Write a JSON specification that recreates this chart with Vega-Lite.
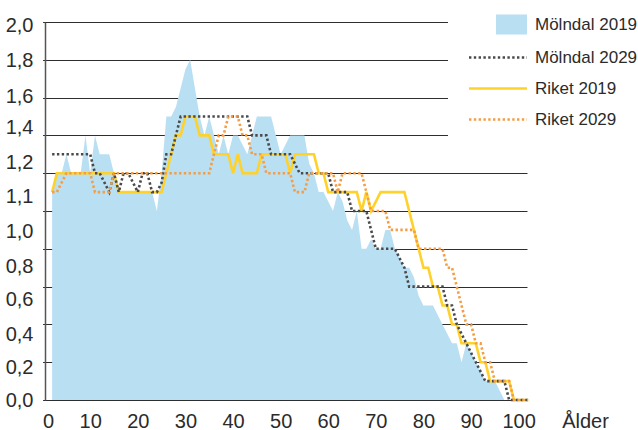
{
  "$schema": "https://vega.github.io/schema/vega-lite/v6.json",
  "width": 482,
  "height": 378,
  "autosize": {"type": "none"},
  "padding": {"left": 45, "top": 22, "right": 111, "bottom": 30},
  "background": "white",
  "config": {
    "view": {"stroke": null},
    "font": "Liberation Sans",
    "axis": {"labelFont": "Liberation Sans Narrow, Liberation Sans", "titleFont": "Liberation Sans Narrow, Liberation Sans", "labelColor": "#2b2b2b", "titleColor": "#2b2b2b"}
  },
  "data": {
    "values": [
      {"Ålder": 2, "Mölndal 2019": 1.1, "Mölndal 2029": 1.3, "Riket 2019": 1.1, "Riket 2029": 1.1},
      {"Ålder": 3, "Mölndal 2019": 1.2, "Mölndal 2029": 1.3, "Riket 2019": 1.2, "Riket 2029": 1.1},
      {"Ålder": 4, "Mölndal 2019": 1.2, "Mölndal 2029": 1.3, "Riket 2019": 1.2, "Riket 2029": 1.15},
      {"Ålder": 5, "Mölndal 2019": 1.3, "Mölndal 2029": 1.3, "Riket 2019": 1.2, "Riket 2029": 1.2},
      {"Ålder": 6, "Mölndal 2019": 1.2, "Mölndal 2029": 1.3, "Riket 2019": 1.2, "Riket 2029": 1.2},
      {"Ålder": 7, "Mölndal 2019": 1.2, "Mölndal 2029": 1.3, "Riket 2019": 1.2, "Riket 2029": 1.2},
      {"Ålder": 8, "Mölndal 2019": 1.2, "Mölndal 2029": 1.3, "Riket 2019": 1.2, "Riket 2029": 1.2},
      {"Ålder": 9, "Mölndal 2019": 1.4, "Mölndal 2029": 1.3, "Riket 2019": 1.2, "Riket 2029": 1.2},
      {"Ålder": 10, "Mölndal 2019": 1.2, "Mölndal 2029": 1.3, "Riket 2019": 1.2, "Riket 2029": 1.2},
      {"Ålder": 11, "Mölndal 2019": 1.4, "Mölndal 2029": 1.2, "Riket 2019": 1.2, "Riket 2029": 1.1},
      {"Ålder": 12, "Mölndal 2019": 1.3, "Mölndal 2029": 1.2, "Riket 2019": 1.2, "Riket 2029": 1.1},
      {"Ålder": 13, "Mölndal 2019": 1.3, "Mölndal 2029": 1.15, "Riket 2019": 1.2, "Riket 2029": 1.1},
      {"Ålder": 14, "Mölndal 2019": 1.3, "Mölndal 2029": 1.1, "Riket 2019": 1.2, "Riket 2029": 1.1},
      {"Ålder": 15, "Mölndal 2019": 1.2, "Mölndal 2029": 1.2, "Riket 2019": 1.2, "Riket 2029": 1.2},
      {"Ålder": 16, "Mölndal 2019": 1.1, "Mölndal 2029": 1.1, "Riket 2019": 1.1, "Riket 2029": 1.2},
      {"Ålder": 17, "Mölndal 2019": 1.1, "Mölndal 2029": 1.2, "Riket 2019": 1.1, "Riket 2029": 1.2},
      {"Ålder": 18, "Mölndal 2019": 1.1, "Mölndal 2029": 1.2, "Riket 2019": 1.1, "Riket 2029": 1.2},
      {"Ålder": 19, "Mölndal 2019": 1.1, "Mölndal 2029": 1.15, "Riket 2019": 1.1, "Riket 2029": 1.2},
      {"Ålder": 20, "Mölndal 2019": 1.1, "Mölndal 2029": 1.1, "Riket 2019": 1.1, "Riket 2029": 1.2},
      {"Ålder": 21, "Mölndal 2019": 1.1, "Mölndal 2029": 1.2, "Riket 2019": 1.1, "Riket 2029": 1.2},
      {"Ålder": 22, "Mölndal 2019": 1.1, "Mölndal 2029": 1.2, "Riket 2019": 1.1, "Riket 2029": 1.2},
      {"Ålder": 23, "Mölndal 2019": 1.1, "Mölndal 2029": 1.1, "Riket 2019": 1.1, "Riket 2029": 1.2},
      {"Ålder": 24, "Mölndal 2019": 1.0, "Mölndal 2029": 1.1, "Riket 2019": 1.1, "Riket 2029": 1.2},
      {"Ålder": 25, "Mölndal 2019": 1.2, "Mölndal 2029": 1.15, "Riket 2019": 1.1, "Riket 2029": 1.2},
      {"Ålder": 26, "Mölndal 2019": 1.5, "Mölndal 2029": 1.3, "Riket 2019": 1.2, "Riket 2029": 1.2},
      {"Ålder": 27, "Mölndal 2019": 1.5, "Mölndal 2029": 1.3, "Riket 2019": 1.3, "Riket 2029": 1.2},
      {"Ålder": 28, "Mölndal 2019": 1.55, "Mölndal 2029": 1.4, "Riket 2019": 1.4, "Riket 2029": 1.2},
      {"Ålder": 29, "Mölndal 2019": 1.65, "Mölndal 2029": 1.5, "Riket 2019": 1.4, "Riket 2029": 1.2},
      {"Ålder": 30, "Mölndal 2019": 1.75, "Mölndal 2029": 1.5, "Riket 2019": 1.5, "Riket 2029": 1.2},
      {"Ålder": 31, "Mölndal 2019": 1.8, "Mölndal 2029": 1.5, "Riket 2019": 1.5, "Riket 2029": 1.2},
      {"Ålder": 32, "Mölndal 2019": 1.65, "Mölndal 2029": 1.5, "Riket 2019": 1.5, "Riket 2029": 1.2},
      {"Ålder": 33, "Mölndal 2019": 1.5, "Mölndal 2029": 1.5, "Riket 2019": 1.4, "Riket 2029": 1.2},
      {"Ålder": 34, "Mölndal 2019": 1.4, "Mölndal 2029": 1.5, "Riket 2019": 1.4, "Riket 2029": 1.2},
      {"Ålder": 35, "Mölndal 2019": 1.5, "Mölndal 2029": 1.5, "Riket 2019": 1.4, "Riket 2029": 1.2},
      {"Ålder": 36, "Mölndal 2019": 1.4, "Mölndal 2029": 1.5, "Riket 2019": 1.3, "Riket 2029": 1.3},
      {"Ålder": 37, "Mölndal 2019": 1.3, "Mölndal 2029": 1.5, "Riket 2019": 1.3, "Riket 2029": 1.4},
      {"Ålder": 38, "Mölndal 2019": 1.4, "Mölndal 2029": 1.5, "Riket 2019": 1.3, "Riket 2029": 1.4},
      {"Ålder": 39, "Mölndal 2019": 1.3, "Mölndal 2029": 1.5, "Riket 2019": 1.3, "Riket 2029": 1.5},
      {"Ålder": 40, "Mölndal 2019": 1.4, "Mölndal 2029": 1.5, "Riket 2019": 1.2, "Riket 2029": 1.5},
      {"Ålder": 41, "Mölndal 2019": 1.4, "Mölndal 2029": 1.5, "Riket 2019": 1.3, "Riket 2029": 1.5},
      {"Ålder": 42, "Mölndal 2019": 1.35, "Mölndal 2029": 1.5, "Riket 2019": 1.2, "Riket 2029": 1.4},
      {"Ålder": 43, "Mölndal 2019": 1.3, "Mölndal 2029": 1.5, "Riket 2019": 1.2, "Riket 2029": 1.4},
      {"Ålder": 44, "Mölndal 2019": 1.4, "Mölndal 2029": 1.4, "Riket 2019": 1.2, "Riket 2029": 1.3},
      {"Ålder": 45, "Mölndal 2019": 1.5, "Mölndal 2029": 1.4, "Riket 2019": 1.2, "Riket 2029": 1.3},
      {"Ålder": 46, "Mölndal 2019": 1.5, "Mölndal 2029": 1.4, "Riket 2019": 1.3, "Riket 2029": 1.3},
      {"Ålder": 47, "Mölndal 2019": 1.5, "Mölndal 2029": 1.4, "Riket 2019": 1.3, "Riket 2029": 1.2},
      {"Ålder": 48, "Mölndal 2019": 1.5, "Mölndal 2029": 1.3, "Riket 2019": 1.3, "Riket 2029": 1.2},
      {"Ålder": 49, "Mölndal 2019": 1.4, "Mölndal 2029": 1.3, "Riket 2019": 1.3, "Riket 2029": 1.2},
      {"Ålder": 50, "Mölndal 2019": 1.3, "Mölndal 2029": 1.3, "Riket 2019": 1.3, "Riket 2029": 1.2},
      {"Ålder": 51, "Mölndal 2019": 1.35, "Mölndal 2029": 1.3, "Riket 2019": 1.3, "Riket 2029": 1.2},
      {"Ålder": 52, "Mölndal 2019": 1.4, "Mölndal 2029": 1.3, "Riket 2019": 1.2, "Riket 2029": 1.2},
      {"Ålder": 53, "Mölndal 2019": 1.4, "Mölndal 2029": 1.25, "Riket 2019": 1.3, "Riket 2029": 1.1},
      {"Ålder": 54, "Mölndal 2019": 1.4, "Mölndal 2029": 1.2, "Riket 2019": 1.3, "Riket 2029": 1.1},
      {"Ålder": 55, "Mölndal 2019": 1.4, "Mölndal 2029": 1.2, "Riket 2019": 1.3, "Riket 2029": 1.1},
      {"Ålder": 56, "Mölndal 2019": 1.25, "Mölndal 2029": 1.2, "Riket 2019": 1.3, "Riket 2029": 1.2},
      {"Ålder": 57, "Mölndal 2019": 1.2, "Mölndal 2029": 1.2, "Riket 2019": 1.3, "Riket 2029": 1.2},
      {"Ålder": 58, "Mölndal 2019": 1.1, "Mölndal 2029": 1.2, "Riket 2019": 1.2, "Riket 2029": 1.2},
      {"Ålder": 59, "Mölndal 2019": 1.1, "Mölndal 2029": 1.2, "Riket 2019": 1.2, "Riket 2029": 1.2},
      {"Ålder": 60, "Mölndal 2019": 1.05, "Mölndal 2029": 1.2, "Riket 2019": 1.1, "Riket 2029": 1.2},
      {"Ålder": 61, "Mölndal 2019": 1.0, "Mölndal 2029": 1.1, "Riket 2019": 1.1, "Riket 2029": 1.2},
      {"Ålder": 62, "Mölndal 2019": 1.1, "Mölndal 2029": 1.1, "Riket 2019": 1.1, "Riket 2029": 1.1},
      {"Ålder": 63, "Mölndal 2019": 1.05, "Mölndal 2029": 1.1, "Riket 2019": 1.1, "Riket 2029": 1.2},
      {"Ålder": 64, "Mölndal 2019": 0.95, "Mölndal 2029": 1.1, "Riket 2019": 1.1, "Riket 2029": 1.2},
      {"Ålder": 65, "Mölndal 2019": 0.9, "Mölndal 2029": 1.0, "Riket 2019": 1.1, "Riket 2029": 1.2},
      {"Ålder": 66, "Mölndal 2019": 1.0, "Mölndal 2029": 1.0, "Riket 2019": 1.1, "Riket 2029": 1.2},
      {"Ålder": 67, "Mölndal 2019": 0.8, "Mölndal 2029": 1.0, "Riket 2019": 1.0, "Riket 2029": 1.2},
      {"Ålder": 68, "Mölndal 2019": 0.8, "Mölndal 2029": 1.0, "Riket 2019": 1.1, "Riket 2029": 1.1},
      {"Ålder": 69, "Mölndal 2019": 0.85, "Mölndal 2029": 0.9, "Riket 2019": 1.0, "Riket 2029": 1.0},
      {"Ålder": 70, "Mölndal 2019": 0.8, "Mölndal 2029": 0.8, "Riket 2019": 1.05, "Riket 2029": 1.0},
      {"Ålder": 71, "Mölndal 2019": 0.8, "Mölndal 2029": 0.8, "Riket 2019": 1.1, "Riket 2029": 1.0},
      {"Ålder": 72, "Mölndal 2019": 0.9, "Mölndal 2029": 0.8, "Riket 2019": 1.1, "Riket 2029": 1.0},
      {"Ålder": 73, "Mölndal 2019": 0.9, "Mölndal 2029": 0.8, "Riket 2019": 1.1, "Riket 2029": 0.9},
      {"Ålder": 74, "Mölndal 2019": 0.8, "Mölndal 2029": 0.8, "Riket 2019": 1.1, "Riket 2029": 0.9},
      {"Ålder": 75, "Mölndal 2019": 0.75, "Mölndal 2029": 0.75, "Riket 2019": 1.1, "Riket 2029": 0.9},
      {"Ålder": 76, "Mölndal 2019": 0.7, "Mölndal 2029": 0.7, "Riket 2019": 1.1, "Riket 2029": 0.9},
      {"Ålder": 77, "Mölndal 2019": 0.7, "Mölndal 2029": 0.6, "Riket 2019": 1.0, "Riket 2029": 0.9},
      {"Ålder": 78, "Mölndal 2019": 0.65, "Mölndal 2029": 0.6, "Riket 2019": 0.9, "Riket 2029": 0.9},
      {"Ålder": 79, "Mölndal 2019": 0.55, "Mölndal 2029": 0.6, "Riket 2019": 0.8, "Riket 2029": 0.8},
      {"Ålder": 80, "Mölndal 2019": 0.5, "Mölndal 2029": 0.6, "Riket 2019": 0.7, "Riket 2029": 0.8},
      {"Ålder": 81, "Mölndal 2019": 0.5, "Mölndal 2029": 0.6, "Riket 2019": 0.7, "Riket 2029": 0.8},
      {"Ålder": 82, "Mölndal 2019": 0.5, "Mölndal 2029": 0.6, "Riket 2019": 0.6, "Riket 2029": 0.8},
      {"Ålder": 83, "Mölndal 2019": 0.45, "Mölndal 2029": 0.6, "Riket 2019": 0.6, "Riket 2029": 0.8},
      {"Ålder": 84, "Mölndal 2019": 0.4, "Mölndal 2029": 0.6, "Riket 2019": 0.5, "Riket 2029": 0.8},
      {"Ålder": 85, "Mölndal 2019": 0.35, "Mölndal 2029": 0.5, "Riket 2019": 0.5, "Riket 2029": 0.7},
      {"Ålder": 86, "Mölndal 2019": 0.3, "Mölndal 2029": 0.5, "Riket 2019": 0.4, "Riket 2029": 0.7},
      {"Ålder": 87, "Mölndal 2019": 0.3, "Mölndal 2029": 0.4, "Riket 2019": 0.4, "Riket 2029": 0.6},
      {"Ålder": 88, "Mölndal 2019": 0.2, "Mölndal 2029": 0.35, "Riket 2019": 0.3, "Riket 2029": 0.5},
      {"Ålder": 89, "Mölndal 2019": 0.3, "Mölndal 2029": 0.3, "Riket 2019": 0.3, "Riket 2029": 0.4},
      {"Ålder": 90, "Mölndal 2019": 0.25, "Mölndal 2029": 0.25, "Riket 2019": 0.3, "Riket 2029": 0.4},
      {"Ålder": 91, "Mölndal 2019": 0.2, "Mölndal 2029": 0.2, "Riket 2019": 0.3, "Riket 2029": 0.3},
      {"Ålder": 92, "Mölndal 2019": 0.15, "Mölndal 2029": 0.15, "Riket 2019": 0.2, "Riket 2029": 0.3},
      {"Ålder": 93, "Mölndal 2019": 0.1, "Mölndal 2029": 0.1, "Riket 2019": 0.2, "Riket 2029": 0.2},
      {"Ålder": 94, "Mölndal 2019": 0.1, "Mölndal 2029": 0.1, "Riket 2019": 0.1, "Riket 2029": 0.2},
      {"Ålder": 95, "Mölndal 2019": 0.1, "Mölndal 2029": 0.1, "Riket 2019": 0.1, "Riket 2029": 0.1},
      {"Ålder": 96, "Mölndal 2019": 0.05, "Mölndal 2029": 0.1, "Riket 2019": 0.1, "Riket 2029": 0.1},
      {"Ålder": 97, "Mölndal 2019": 0.0, "Mölndal 2029": 0.1, "Riket 2019": 0.1, "Riket 2029": 0.1},
      {"Ålder": 98, "Mölndal 2019": 0.0, "Mölndal 2029": 0.0, "Riket 2019": 0.1, "Riket 2029": 0.1},
      {"Ålder": 99, "Mölndal 2019": 0.0, "Mölndal 2029": 0.0, "Riket 2019": 0.0, "Riket 2029": 0.0},
      {"Ålder": 100, "Mölndal 2019": 0.0, "Mölndal 2029": 0.0, "Riket 2019": 0.0, "Riket 2029": 0.0},
      {"Ålder": 101, "Mölndal 2019": 0.0, "Mölndal 2029": 0.0, "Riket 2019": 0.0, "Riket 2029": 0.0},
      {"Ålder": 102, "Mölndal 2019": 0.0, "Mölndal 2029": 0.0, "Riket 2019": 0.0, "Riket 2029": 0.0}
    ]
  },
  "transform": [
    {"fold": ["Riket 2019", "Mölndal 2029", "Riket 2029", "Mölndal 2019"], "as": ["serie", "value"]}
  ],
  "encoding": {
    "x": {
      "field": "Ålder", "type": "quantitative",
      "scale": {"domain": [0, 101.75], "range": [-2.4, 482], "nice": false, "zero": false},
      "axis": {
        "values": [0, 10, 20, 30, 40, 50, 60, 70, 80, 90, 100],
        "grid": false, "ticks": false, "tickSize": 0, "domain": false,
        "labelFontSize": 20, "labelPadding": 27, "labelBaseline": "alphabetic", "labelFlush": 1,
        "title": "Ålder", "titleFontSize": 20, "titleFontWeight": "normal",
        "titleX": 540, "titleY": 27, "titleAlign": "center", "titleBaseline": "alphabetic"
      }
    }
  },
  "layer": [
    {
      "transform": [{"filter": "datum.serie === 'Mölndal 2019'"}],
      "mark": {"type": "area", "color": "#b9dff3", "opacity": 1},
      "encoding": {
        "y": {
          "field": "value", "type": "quantitative",
          "scale": {"domain": [0, 2], "nice": false},
          "axis": {
            "orient": "left",
            "values": [0, 0.2, 0.4, 0.6, 0.8, 1.0, 1.2, 1.4, 1.6, 1.8, 2.0],
            "labels": false, "ticks": false, "tickSize": 0, "title": null,
            "grid": true, "gridColor": "#2e2e2e", "gridWidth": 1,
            "domainColor": "#555", "domainWidth": 1.5
          }
        }
      }
    },
    {
      "transform": [{"filter": "datum.serie !== 'Mölndal 2019'"}],
      "mark": {"type": "line", "strokeCap": "butt", "strokeJoin": "miter"},
      "encoding": {
        "y": {
          "field": "value", "type": "quantitative",
          "axis": {
            "orient": "left",
            "values": [0, 0.17, 0.345, 0.53, 0.705, 0.89, 1.075, 1.255, 1.44, 1.605, 1.795, 1.98],
            "labelExpr": "datum.value < 0.1 ? '0,0' : datum.value < 0.3 ? '0,2' : datum.value < 0.45 ? '0,4' : datum.value < 0.6 ? '0,6' : datum.value < 0.8 ? '0,8' : datum.value < 1.0 ? '1,0' : datum.value < 1.2 ? '1,1' : datum.value < 1.35 ? '1,2' : datum.value < 1.5 ? '1,4' : datum.value < 1.7 ? '1,6' : datum.value < 1.9 ? '1,8' : '2,0'",
            "labelFontSize": 20, "labelPadding": 12, "labelBaseline": "middle",
            "ticks": false, "tickSize": 0, "grid": false, "domain": false, "title": null
          }
        },
        "stroke": {
          "field": "serie", "type": "nominal",
          "scale": {"domain": ["Mölndal 2019", "Mölndal 2029", "Riket 2019", "Riket 2029"], "range": ["#b9dff3", "#4a4a4a", "#ffd22b", "#f49d45"]},
          "legend": {
            "orient": "none", "legendX": 403, "legendY": -27, "title": null,
            "symbolType": "stroke", "symbolSize": 3364, "symbolStrokeWidth": 2.5,
            "labelFont": "Liberation Sans", "labelFontSize": 17, "labelColor": "#2b2b2b", "labelOffset": 8,
            "rowPadding": 13, "padding": 21, "fillColor": "white", "strokeColor": null,
            "encode": {
              "symbols": {
                "update": {
                  "x": {"value": 29},
                  "shape": {"signal": "datum.value === 'Mölndal 2019' ? 'M-0.07,-0.345H1V0.345H-0.07Z' : 'stroke'"},
                  "fill": {"signal": "datum.value === 'Mölndal 2019' ? '#b9dff3' : 'transparent'"},
                  "strokeWidth": {"signal": "datum.value === 'Mölndal 2019' ? 0 : 2.5"}
                }
              },
              "labels": {
                "update": {"x": {"value": 66}}
              }
            }
          }
        },
        "strokeDash": {
          "field": "serie", "type": "nominal",
          "scale": {"domain": ["Mölndal 2019", "Mölndal 2029", "Riket 2019", "Riket 2029"], "range": [[1, 0], [2.4, 2.4], [1, 0], [2.4, 2.4]]}
        },
        "strokeWidth": {"value": 2.6}
      }
    }
  ],
  "resolve": {"axis": {"y": "independent"}}
}
